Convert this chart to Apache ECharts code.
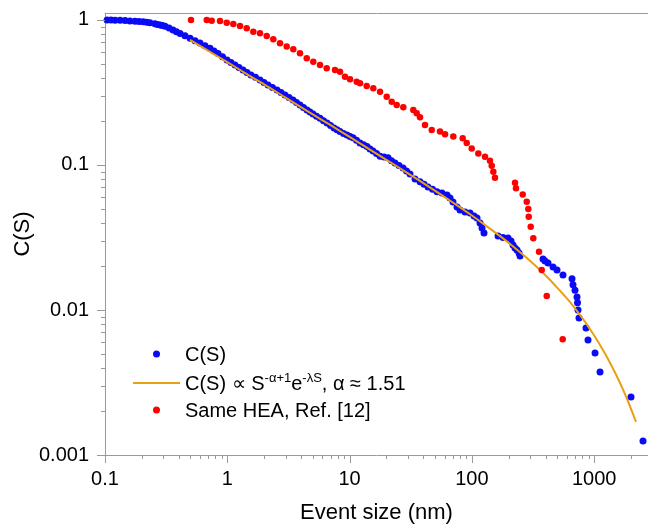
<!DOCTYPE html>
<html><head><meta charset="utf-8">
<script src="https://cdn.jsdelivr.net/npm/echarts@6/dist/echarts.min.js"></script>
<style>html,body{margin:0;padding:0;background:#fff}#c{width:648px;height:529px}</style>
</head><body><div id="c"></div>
<script>
// Event size S (nm), C(S)
const blueCCDF = [[0.104,1.000],[0.112,0.999],[0.121,0.997],[0.133,0.994],[0.146,0.990],[0.160,0.985],[0.176,0.980],[0.190,0.977],[0.205,0.973],[0.219,0.964],[0.233,0.955],[0.256,0.940],[0.269,0.932],[0.282,0.924],[0.295,0.915],[0.310,0.905],[0.334,0.879],[0.360,0.853],[0.384,0.830],[0.411,0.807],[0.451,0.777],[0.496,0.748],[0.545,0.720],[0.598,0.694],[0.657,0.665],[0.722,0.638],[0.778,0.612],[0.840,0.587],[0.914,0.558],[0.995,0.530],[1.072,0.509],[1.156,0.490],[1.246,0.471],[1.344,0.452],[1.449,0.435],[1.562,0.418],[1.700,0.402],[1.851,0.386],[1.996,0.371],[2.152,0.356],[2.342,0.342],[2.550,0.329],[2.749,0.316],[2.964,0.304],[3.196,0.292],[3.446,0.281],[3.680,0.270],[3.930,0.259],[4.198,0.249],[4.485,0.239],[4.745,0.232],[5.021,0.225],[5.364,0.217],[5.730,0.210],[6.120,0.202],[6.537,0.195],[6.983,0.187],[7.459,0.180],[7.892,0.175],[8.350,0.170],[8.918,0.165],[9.526,0.161],[10.08,0.157],[10.66,0.154],[11.39,0.148],[12.17,0.142],[13.00,0.138],[13.88,0.134],[14.69,0.129],[15.54,0.125],[16.60,0.120],[17.74,0.115],[19.12,0.1135],[20.61,0.112],[22.01,0.107],[23.51,0.103],[25.35,0.099],[27.34,0.0954],[29.20,0.091],[31.19,0.0867],[34.27,0.0800],[37.66,0.0767],[40.60,0.0735],[43.77,0.0705],[47.64,0.0679],[51.86,0.0654],[56.97,0.0641],[62.60,0.0621],[66.23,0.0592],[70.07,0.0556],[75.56,0.0513],[79.96,0.0490],[87.86,0.0474],[96.5,0.0467],[104.1,0.0445],[110.1,0.0431],[116.5,0.0398],[121.0,0.0368],[125.6,0.0340],[163.6,0.0324],[179.7,0.0316],[197.4,0.0314],[208.9,0.0299],[216.9,0.0281],[225.2,0.0268],[233.9,0.0259],[242.9,0.0247],[247.5,0.0236],[381.6,0.0225],[396.2,0.0218],[419.3,0.0211],[460.7,0.0198],[496.6,0.0189],[555.9,0.0174],[658.7,0.0164],[671.2,0.0149],[696.9,0.0137],[723.6,0.0123],[730.4,0.0112],[737.4,0.0100],[751.4,0.0088],[857.3,0.0075],[890.2,0.0062],[1016,0.00505],[1116,0.00374],[2000,0.00251],[2507,0.00125]];
const refCCDF = [[0.505,1.0],[0.679,1.0],[0.746,0.989],[0.872,0.984],[0.989,0.958],[1.120,0.938],[1.270,0.909],[1.441,0.876],[1.632,0.830],[1.851,0.810],[2.100,0.776],[2.377,0.736],[2.698,0.691],[3.060,0.655],[3.465,0.628],[3.930,0.589],[4.460,0.544],[5.050,0.516],[5.728,0.490],[6.499,0.464],[7.597,0.452],[8.350,0.440],[9.173,0.406],[10.08,0.390],[11.43,0.375],[12.17,0.366],[13.80,0.351],[15.63,0.338],[17.74,0.320],[20.12,0.296],[22.10,0.273],[24.28,0.259],[27.49,0.250],[33.19,0.239],[35.39,0.227],[37.65,0.213],[41.37,0.189],[46.93,0.174],[54.87,0.170],[60.29,0.163],[70.48,0.157],[84.13,0.153],[90.71,0.142],[99.66,0.130],[112.9,0.120],[128.0,0.114],[140.6,0.107],[145.3,0.0989],[149.7,0.0899],[154.5,0.0817],[225.2,0.0755],[229.4,0.0691],[260.4,0.0626],[280.7,0.0558],[289.3,0.0497],[291.5,0.0440],[302.7,0.0375],[317.8,0.0312],[353.9,0.0252],[372.4,0.0189],[409.1,0.0125],[552.8,0.00628]];
const fitCurve = [[0.4955,0.728],[0.7,0.612],[1,0.512],[1.5,0.415],[2,0.360],[3,0.291],[5,0.223],[7,0.188],[10,0.156],[15,0.126],[20,0.1086],[30,0.0876],[45,0.0704],[60,0.0600],[80,0.0510],[100,0.0448],[130,0.0382],[170,0.0323],[220,0.0272],[280,0.0229],[350,0.0193],[430,0.0163],[520,0.0137],[620,0.0116],[730,0.00975],[850,0.00819],[1000,0.00667],[1150,0.0055],[1300,0.00458],[1500,0.00362],[1700,0.00289],[1900,0.00232],[2100,0.00187],[2198,0.00169]];
const xTickValues = [0.1, 1, 10, 100, 1000];
const yTickValues = [0.001, 0.01, 0.1, 1];
const seriesNames = ['C(S)', 'fit', 'Same HEA, Ref. [12]'];

const X_MIN = 0.1, X_MAX = Math.pow(10, 3.44);
const Y_MIN = 0.001, Y_MAX = Math.pow(10, 0.048);
const AXIS_COLOR = '#9a9a9a';
const FONT = '"Liberation Sans", Arial, sans-serif';
const lg = Math.log10;

function minorOf(majors, lo, hi) {
  const out = [];
  majors.concat([majors[majors.length - 1] * 10]).forEach(d => { for (let k = 2; k <= 9; k++) { const v = d * k; if (v > lo && v < hi) out.push(v); } });
  return out;
}
// tick marks: [value, length(px)], placed through the axes' own log scales
const xTickMarks = xTickValues.map(v => [v, 8]).concat(minorOf(xTickValues, X_MIN, X_MAX).map(v => [v, 4]));
const yTickMarks = yTickValues.map(v => [v, 8]).concat(minorOf(yTickValues, Y_MIN, Y_MAX).map(v => [v, 4]));

function tickSeries(marks, dir) {
  return {
    type: 'custom', coordinateSystem: 'cartesian2d', xAxisIndex: 0, yAxisIndex: 0,
    silent: true, clip: false, z: 10,
    data: marks.map(m => dir === 'x' ? [m[0], Y_MIN, m[1]] : [X_MIN, m[0], m[1]]),
    encode: { x: 0, y: 1 },
    renderItem: function (params, api) {
      const p = api.coord([api.value(0), api.value(1)]);
      const len = api.value(2);
      if (dir === 'x') {
        const x = Math.round(p[0]) + 0.5;
        return { type: 'line', shape: { x1: x, y1: p[1], x2: x, y2: p[1] + len }, style: { stroke: AXIS_COLOR, lineWidth: 1 } };
      }
      const y = Math.round(p[1]) + 0.5;
      return { type: 'line', shape: { x1: p[0], y1: y, x2: p[0] - len, y2: y }, style: { stroke: AXIS_COLOR, lineWidth: 1 } };
    }
  };
}

function powLabel(v) {
  const l = lg(v);
  if (Math.abs(l - Math.round(l)) > 1e-6) return '';
  const r = Math.round(l);
  return r >= 0 ? String(Math.pow(10, r)) : (Math.pow(10, r)).toFixed(-r);
}

const chart = echarts.init(document.getElementById('c'), null, { renderer: 'canvas' });
chart.setOption({
  animation: false,
  backgroundColor: '#fff',
  textStyle: { fontFamily: FONT },
  grid: { left: 105, right: 0, top: 13, bottom: 74, show: false, containLabel: false, outerBoundsMode: 'none' },
  legend: {
    orient: 'vertical', left: 128, top: 340, itemWidth: 47, itemHeight: 7, itemGap: 7,
    data: [
      { name: seriesNames[0], icon: 'circle' },
      { name: seriesNames[1], icon: 'path://M0,0L47,0L47,2L0,2Z' },
      { name: seriesNames[2], icon: 'circle' }
    ],
    formatter: function (name) {
      if (name === 'fit') return '{n|C(S) ∝ S}{s|-α+1}{n|e}{s|-λS}{n|, α ≈ 1.51}';
      return '{n|' + name + '}';
    },
    textStyle: {
      color: '#000', fontFamily: FONT, fontSize: 20,
      rich: {
        n: { fontSize: 20, lineHeight: 22, color: '#000', fontFamily: FONT, verticalAlign: 'bottom' },
        s: { fontSize: 13, lineHeight: 13, color: '#000', fontFamily: FONT, verticalAlign: 'top' }
      }
    }
  },
  xAxis: [
    {
      type: 'log', logBase: 10, min: X_MIN, max: X_MAX, position: 'bottom',
      name: 'Event size (nm)', nameLocation: 'middle', nameGap: 47, nameMoveOverlap: false,
      nameTextStyle: { fontSize: 22, color: '#000', fontFamily: FONT },
      axisLine: { show: true, onZero: false, lineStyle: { color: AXIS_COLOR, width: 1 } },
      axisTick: { show: false },
      splitLine: { show: false },
      axisLabel: { color: '#000', fontSize: 20, margin: 14, fontFamily: FONT, formatter: powLabel }
    },
    {
      type: 'value', min: 0, max: 1, position: 'top',
      axisLine: { show: true, onZero: false, lineStyle: { color: AXIS_COLOR, width: 1 } },
      axisTick: { show: false }, axisLabel: { show: false }, splitLine: { show: false }
    }
  ],
  yAxis: [
    {
      type: 'log', logBase: 10, min: Y_MIN, max: Y_MAX, position: 'left',
      name: 'C(S)', nameLocation: 'middle', nameGap: 71, nameRotate: 90, nameMoveOverlap: false,
      nameTextStyle: { fontSize: 22, color: '#000', fontFamily: FONT },
      axisLine: { show: true, onZero: false, lineStyle: { color: AXIS_COLOR, width: 1 } },
      axisTick: { show: false },
      splitLine: { show: false },
      axisLabel: { color: '#000', fontSize: 20, margin: 16, fontFamily: FONT, formatter: powLabel }
    }
  ],
  series: [
    tickSeries(xTickMarks, 'x'),
    tickSeries(yTickMarks, 'y'),
    {
      name: seriesNames[0], type: 'scatter', xAxisIndex: 0, yAxisIndex: 0,
      data: blueCCDF, symbol: 'circle', symbolSize: 7,
      itemStyle: { color: '#0a0af5', opacity: 1 }, z: 2
    },
    {
      name: seriesNames[1], type: 'line', xAxisIndex: 0, yAxisIndex: 0,
      data: fitCurve, symbol: 'none', showSymbol: false, smooth: 0.3,
      lineStyle: { color: '#e8a013', width: 2 }, itemStyle: { color: '#e8a013' }, z: 3
    },
    {
      name: seriesNames[2], type: 'scatter', xAxisIndex: 0, yAxisIndex: 0,
      data: refCCDF, symbol: 'circle', symbolSize: 6.5,
      itemStyle: { color: '#ff0000', opacity: 1 }, z: 4
    }
  ]
});
</script></body></html>
